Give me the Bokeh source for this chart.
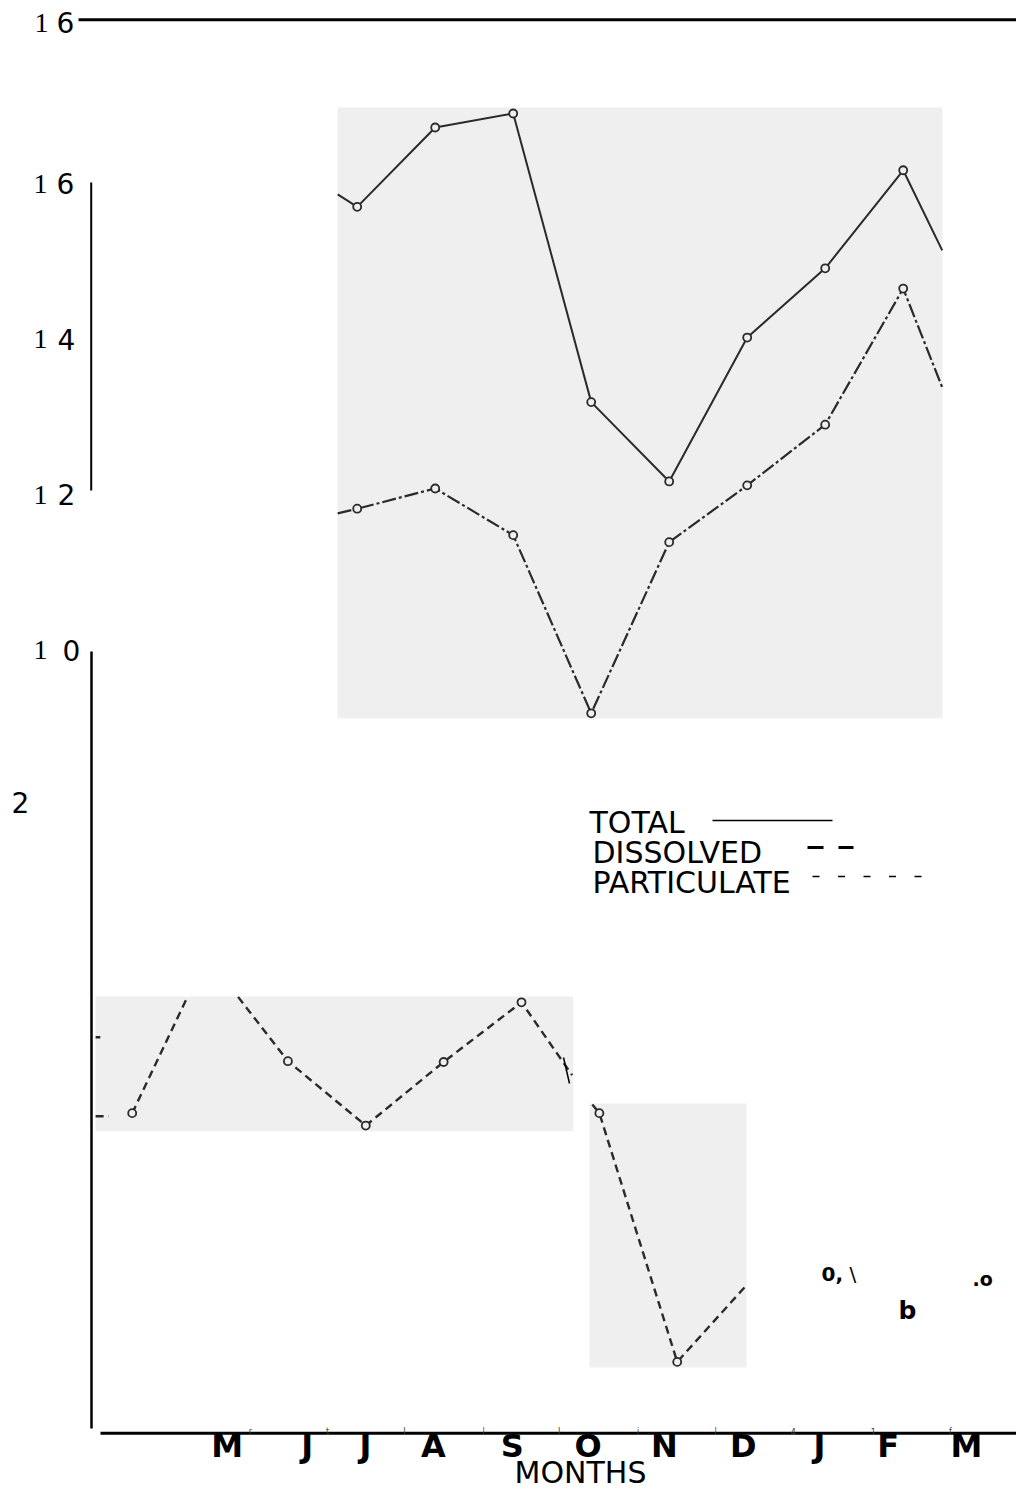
from bokeh.plotting import figure
from bokeh.models import Range1d
from bokeh.core.properties import value
from bokeh.embed import file_html
from bokeh.resources import INLINE

# ---------------- data ----------------
MONTH_LABELS = ["M", "J", "J", "A", "S", "O", "N", "D", "J", "F", "M"]
Y_TICKS = [16, 14, 12, 10]

# upper panel: month index 0..7
UPPER_IDX = [0, 1, 2, 3, 4, 5, 6, 7]
TOTAL = [15.70, 16.72, 16.90, 13.19, 12.17, 14.02, 14.91, 16.17]
DISSOLVED = [11.82, 12.08, 11.48, 9.19, 11.39, 12.12, 12.90, 14.65]
# where the drawn lines meet the panel edges (month index, value)
UPPER_EDGE_IDX = [-0.25, 7.50]
TOTAL_EDGE = [15.86, 15.14]
DISSOLVED_EDGE = [11.76, 13.38]

# lower panels: particulate, month index 0..7 (index 1 is outside the panel)
PART_IDX = [0, 2, 3, 4, 5, 6, 7]
PARTICULATE = [4.13, 4.80, 3.97, 4.79, 5.56, 4.13, 0.92]
# visible pieces of the particulate line (month index, value)
PART_PIECES_X = [[-0.47, -0.41], [-0.47, -0.30], [0.0, 0.71],
                 [1.36, 2, 3, 4, 5, 5.65], [5.91, 6, 7, 7.89]]
PART_PIECES_V = [[5.11, 5.11], [4.09, 4.09], [4.13, 5.63],
                 [5.63, 4.80, 3.97, 4.79, 5.56, 4.62], [4.24, 4.13, 0.92, 1.91]]

# ---------------- layout / style ----------------
W, H = 1016, 1491
UP_X0, UP_DX = 356.7, 78.0          # pixel of upper month 0, px per month
UP_Y16, UP_DY = 183.0, 77.8         # pixel of value 16, px per unit
LO_X0, LO_DX = 131.7, 77.86
LO_Y0, LO_DY = 1432.7, 77.5

INK = "#2a2a2a"
PANEL = "#efefef"
FONT = "DejaVu Sans"

p = figure(width=W, height=H, output_backend="svg", toolbar_location=None,
           x_range=Range1d(0, W), y_range=Range1d(H, 0),
           x_axis_location=None, y_axis_location=None, min_border=0)
p.grid.visible = False
p.outline_line_color = None
p.background_fill_color = "white"
p.border_fill_color = "white"

p.extra_x_ranges = {
    "ux": Range1d(-UP_X0 / UP_DX, (W - UP_X0) / UP_DX),
    "lx": Range1d(-LO_X0 / LO_DX, (W - LO_X0) / LO_DX),
}
p.extra_y_ranges = {
    "uy": Range1d(16 - (H - UP_Y16) / UP_DY, 16 + UP_Y16 / UP_DY),
    "ly": Range1d(-(H - LO_Y0) / LO_DY, LO_Y0 / LO_DY),
}

# ---- grey panels ----
p.quad(left=[337, 95, 589], right=[942, 572.7, 746],
       top=[107, 996, 1103], bottom=[718, 1130.7, 1367],
       fill_color=PANEL, line_color=None)

# ---- upper panel lines ----
tx = [UPPER_EDGE_IDX[0]] + UPPER_IDX + [UPPER_EDGE_IDX[1]]
p.line(tx, [TOTAL_EDGE[0]] + TOTAL + [TOTAL_EDGE[1]], x_range_name="ux",
       y_range_name="uy", line_color=INK, line_width=2)
p.line(tx, [DISSOLVED_EDGE[0]] + DISSOLVED + [DISSOLVED_EDGE[1]], x_range_name="ux",
       y_range_name="uy", line_color=INK, line_width=2.2, line_dash="14 3 3 3")
for ser in (TOTAL, DISSOLVED):
    p.scatter(UPPER_IDX, ser, x_range_name="ux", y_range_name="uy", marker="circle",
              size=8, fill_color=PANEL, line_color=INK, line_width=1.8)

# ---- particulate ----
p.multi_line(PART_PIECES_X, PART_PIECES_V, x_range_name="lx", y_range_name="ly",
             line_color=INK, line_width=2.4, line_dash="8 5")
p.scatter(PART_IDX, PARTICULATE, x_range_name="lx", y_range_name="ly", marker="circle",
          size=8, fill_color=PANEL, line_color=INK, line_width=1.8)
p.segment(x0=[563], y0=[1057], x1=[569], y1=[1083], line_color="black", line_width=1.5)

# ---- axis-like rules ----
p.segment(x0=[78, 100, 90.7, 91], y0=[19.3, 1432.7, 182, 651],
          x1=[1016, 1016, 90.7, 91], y1=[19.3, 1432.7, 490, 1428],
          line_color="black", line_width=[3, 3, 2, 2.5])

# ---- y labels ----
p.text(x=[40] * len(Y_TICKS), y=Y_TICKS, text=[str(t)[0] for t in Y_TICKS],
       y_range_name="uy", text_font=value("Liberation Serif"), text_font_size="28px",
       text_align="center", text_baseline="middle", text_color="black")
p.text(x=[65, 66, 66, 71], y=Y_TICKS, text=[str(t)[1] for t in Y_TICKS],
       y_range_name="uy", text_font=value(FONT), text_font_size="28px",
       text_align="center", text_baseline="middle", text_color="black")
p.text(x=[41, 65, 20], y=[22, 22, 802], text=["1", "6", "2"],
       text_font=["Liberation Serif", FONT, FONT], text_font_size="28px",
       text_align="center", text_baseline="middle", text_color="black")

# ---- legend ----
p.text(x=[589, 592, 592], y=[822, 852, 882], text=["TOTAL", "DISSOLVED", "PARTICULATE"],
       text_font=value(FONT), text_font_size="30px", text_align="left",
       text_baseline="alphabetic", text_color="black")
p.segment(x0=[712], y0=[820], x1=[832], y1=[820], line_color="black", line_width=1.3)
p.segment(x0=[807, 838], y0=[847, 847], x1=[823, 853], y1=[847, 847],
          line_color="black", line_width=3)
p.segment(x0=[812, 837.5, 863, 888.5, 914], y0=[876] * 5,
          x1=[819, 844.5, 870, 895.5, 921], y1=[876] * 5,
          line_color="black", line_width=1.5)

# ---- stray marks ----
p.text(x=[821, 849, 972, 898], y=[1273, 1273, 1278, 1310], text=["0,", "\\", ".o", "b"],
       text_font=value(FONT), text_font_size=["20px", "20px", "19px", "25px"],
       text_font_style=["bold", "normal", "bold", "bold"],
       text_align="left", text_baseline="alphabetic", text_color="black")

# ---- month axis ----
MONTH_X = [226.7, 306.7, 365, 433, 511.7, 587.7, 664, 742.7, 819, 887.7, 966]
p.text(x=MONTH_X, y=[1445] * len(MONTH_LABELS), text=MONTH_LABELS,
       text_font=value(FONT), text_font_size="32px", text_font_style="bold",
       text_align="center", text_baseline="middle", text_color="black")
TICK_X = [250, 327, 404, 483, 558.7, 637.7, 715, 792.7, 872.7, 950]
p.text(x=TICK_X, y=[1431] * len(TICK_X), text=list("rtIlIil41f"),
       text_font=value(FONT), text_font_size="8px", text_align="center",
       text_baseline="alphabetic", text_color="#444444")
p.text(x=[580], y=[1472], text=["MONTHS"], text_font=value(FONT),
       text_font_size="30px", text_align="center", text_baseline="middle",
       text_color="black")

open("out.html", "w").write(file_html(p, INLINE))
